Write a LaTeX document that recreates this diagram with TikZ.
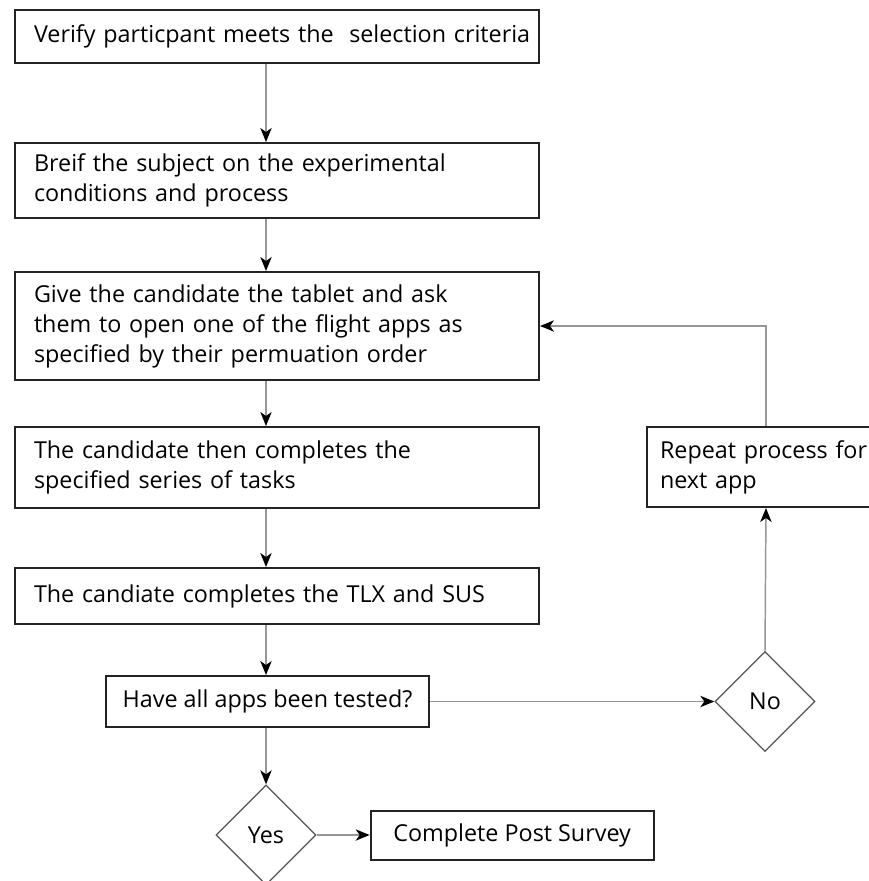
\documentclass[tikz,border=0pt]{standalone}
\usepackage{fontspec}
\setmainfont{Open Sans}
\usetikzlibrary{shapes.geometric, arrows.meta, positioning, calc}
\definecolor{boxline}{RGB}{35, 35, 35}
\definecolor{linkgray}{RGB}{150, 150, 150}
\definecolor{diamline}{RGB}{85, 85, 85}

\begin{document}
\begin{tikzpicture}[x=0.75pt, y=-0.75pt,
  stepbox/.style={draw=boxline, line width=1.5pt, rectangle, anchor=north west,
    align=left, inner xsep=14.25pt, inner ysep=0pt, font=\fontsize{17.5}{22.5}\selectfont},
  mainbox/.style={stepbox, text width=364.5pt, minimum width=393pt},
  choice/.style={draw=diamline, line width=1pt, diamond, minimum width=75pt,
    minimum height=75pt, inner sep=0pt, font=\fontsize{17.5}{20}\selectfont},
  link/.style={draw=linkgray, line width=1.1pt,
    -{Stealth[black, length=10.5pt, width=8.5pt, inset=3pt]}}]
  \useasboundingbox (0,0) rectangle (868,881);
  \fill[white] (0,0) rectangle (868,881);

  % Main column
  \node[mainbox, minimum height=39.75pt] (b1) at (14,9)
    {\mbox{Verify particpant meets the \ selection criteria}};
  \node[mainbox, minimum height=56.25pt] (b2) at (14,142)
    {Breif the subject on the experimental\\conditions and process};
  \node[mainbox, minimum height=81pt] (b3) at (14,271)
    {Give the candidate the tablet and ask\\them to open one of the flight apps as\\specified by their permuation order};
  \node[mainbox, minimum height=60.75pt] (b4) at (14,426)
    {The candidate then completes the\\specified series of tasks};
  \node[mainbox, minimum height=42pt] (b5) at (14,567)
    {The candiate completes the TLX and SUS};
  \node[stepbox, inner xsep=6pt, minimum width=242.25pt, minimum height=38.25pt]
    (chk) at (105,675) {Have all apps been tested?};
  \coordinate (spine) at (266,0);
  \coordinate (nox) at (765,0);

  % Decisions
  \node[choice] (no) at (chk.center -| nox) {No};
  \node[choice] (yes) at (266,835) {Yes};

  % Loop back and exit
  \node[stepbox, inner xsep=9.75pt, text width=159pt, minimum width=178.5pt,
    minimum height=60pt] (rep) at (646,426) {Repeat process for\\next app};
  \node[stepbox, anchor=west, inner xsep=0pt, minimum width=212.25pt,
    minimum height=36.75pt] (post) at ([xshift=39.75pt]yes.east) {Complete Post Survey};

  % Connectors
  \draw[link] (b1.south -| spine) -- (b2.north -| spine);
  \draw[link] (b2.south -| spine) -- (b3.north -| spine);
  \draw[link] (b3.south -| spine) -- (b4.north -| spine);
  \draw[link] (b4.south -| spine) -- (b5.north -| spine);
  \draw[link] (b5.south -| spine) -- (chk.north -| spine);
  \draw[link] (chk.south -| spine) -- (yes.north);
  \draw[link] (yes.east) -- (post.west);
  \draw[link] (chk.east) -- (no.west);
  \draw[link] (no.north) -- (rep.south);
  \draw[link] (rep.north) |- (b3.east);
\end{tikzpicture}
\end{document}
